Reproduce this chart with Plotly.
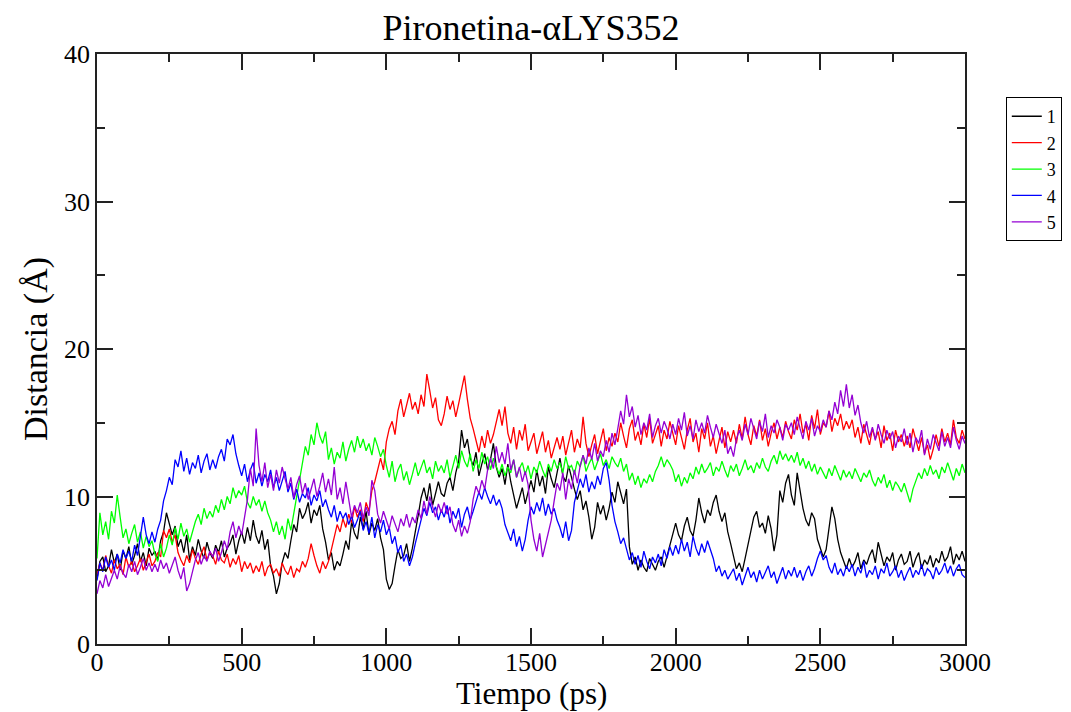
import plotly.graph_objects as go

# Time axis (ps), one sample every 10 ps
tiempo = list(range(0, 3001, 10))

dist_1 = [
    4.4, 5.6, 5.9, 4.9, 5.3, 6.4, 5.5, 6.1, 5.0, 6.3, 5.8, 6.6, 5.4, 6.0, 6.8, 5.6, 6.2, 5.3, 6.5, 6.0,
    6.3, 5.7, 7.0, 7.6, 8.9, 8.2, 7.4, 8.0, 6.6, 7.1, 6.2, 7.4, 5.7, 6.6, 6.0, 7.1, 6.3, 5.8, 6.9, 6.2,
    5.8, 6.7, 6.2, 7.0, 5.9, 6.5, 6.8, 7.4, 6.1, 7.0, 7.6, 6.8, 7.9, 7.0, 8.4, 7.3, 6.8, 7.7, 6.4, 7.1,
    5.3, 4.6, 3.4, 4.1, 5.5, 6.2, 5.8, 7.0, 8.1, 7.6, 9.2, 8.5, 8.9, 9.6, 8.2, 9.1, 8.7, 9.4, 7.8, 6.9,
    5.7, 6.2, 5.0, 5.6, 5.3, 6.1, 7.0, 6.4, 8.3, 7.5, 7.1, 8.6, 7.8, 9.0, 7.4, 8.2, 7.7, 8.5, 7.2, 6.4,
    4.4, 3.7, 4.1, 5.3, 6.4, 5.8, 6.0, 6.8, 5.6, 6.5, 7.5, 8.7, 9.9, 10.6, 9.7, 10.9, 9.4, 10.3, 11.0, 10.2,
    10.0, 10.9, 11.3, 10.4, 11.6, 12.4, 14.5, 13.3, 13.9, 12.6, 12.1, 13.0, 11.4, 12.2, 12.9, 11.8, 12.5, 13.6, 12.0, 11.3,
    11.9, 10.8, 12.2, 11.0, 10.1, 9.2, 9.9, 10.6, 9.5, 10.4, 11.1, 10.3, 11.8, 10.7, 11.4, 10.2, 12.0, 11.2, 10.6, 11.6,
    12.6, 11.4, 11.0, 12.1, 11.2, 10.5, 9.8, 10.4, 9.1, 9.7, 8.6, 7.1, 7.9, 9.6, 8.8, 9.4, 8.4, 9.2, 10.3, 9.6,
    11.0, 10.2, 9.5, 10.5, 6.6, 5.4, 5.9, 5.0, 5.7, 5.2, 4.9, 5.8, 5.4, 5.0, 5.6, 5.9, 5.2, 6.0, 6.8, 7.6,
    8.2, 7.4, 7.0, 8.0, 8.6, 7.7, 7.3, 8.4, 9.9, 8.9, 8.2, 9.1, 8.7, 9.6, 10.1, 9.0, 8.3, 8.9, 7.6, 6.8,
    5.9, 5.1, 5.5, 4.9, 5.8, 6.7, 7.8, 8.6, 9.0, 7.9, 8.2, 7.5, 8.7, 7.8, 6.3, 7.4, 10.4, 9.6, 10.9, 11.5,
    10.1, 9.4, 11.6, 10.5, 9.2, 8.4, 8.0, 8.9, 8.5, 7.1, 6.5, 5.9, 6.4, 7.7, 9.3, 8.5, 7.1, 6.2, 5.6, 5.1,
    5.8, 5.2, 5.6, 6.2, 5.1, 5.7, 5.4, 6.0, 6.4, 5.5, 6.9, 6.1, 5.3, 5.9, 5.6, 6.2, 5.0, 5.7, 6.1, 5.4,
    5.6, 6.3, 5.2, 5.8, 6.2, 5.1, 5.7, 5.4, 6.0, 5.2, 5.8, 5.5, 6.3, 5.6, 5.9, 6.6, 5.4, 6.1, 5.7, 6.3,
    5.6,
]

dist_2 = [
    4.7, 5.5, 5.0, 6.0, 5.3, 4.8, 5.7, 5.1, 5.4, 4.7, 5.9, 5.2, 5.6, 4.9, 5.3, 5.8, 5.0, 5.5, 6.1, 5.3,
    5.6, 6.2, 5.9, 7.7, 7.2, 7.8, 6.9, 7.4, 6.2, 5.7, 5.3, 6.0, 5.5, 6.4, 5.8, 5.4, 6.1, 6.6, 5.7, 6.2,
    6.0, 5.4, 6.3, 5.7, 5.5, 6.1, 5.2, 5.8, 5.4, 6.0, 4.9, 5.6, 5.1, 5.5, 4.8, 5.3, 4.9, 5.6, 4.6, 5.2,
    5.4, 4.8, 5.1, 4.6, 5.5, 5.0, 4.7, 5.3, 4.5, 5.1, 4.9, 5.6, 5.2, 5.8, 6.8, 6.0, 5.3, 4.8, 5.6, 5.1,
    5.6, 6.4, 7.2, 8.1, 7.6, 8.5, 7.9, 8.8, 8.2, 9.3, 8.6, 9.1, 8.3, 9.6, 9.0, 10.4, 11.0, 11.9, 12.6, 11.8,
    13.7, 14.6, 15.1, 14.2, 15.8, 16.6, 15.4, 16.2, 17.0, 15.9, 16.4, 15.6, 16.9, 16.1, 18.3, 17.2, 16.0, 16.7, 15.2, 14.8,
    15.6, 16.8, 15.9, 16.5, 15.4, 16.3, 17.2, 18.2, 16.6, 15.3, 14.6, 13.8, 13.0, 14.1, 13.3, 14.5, 13.6, 14.2, 15.0, 15.9,
    14.8, 16.1, 14.3, 13.6, 14.7, 13.2, 14.5, 13.8, 14.9, 13.1, 13.7, 14.3, 12.9, 13.6, 14.4, 13.0, 13.8, 12.6, 13.4, 14.0,
    13.2, 14.1, 12.8, 13.7, 14.5, 13.0, 13.9, 13.3, 15.4, 13.6, 12.7, 13.5, 14.2, 12.9, 13.8, 14.6, 13.1, 14.0, 13.4, 14.3,
    13.7, 15.0, 14.1, 13.3, 14.6, 15.2, 13.8, 14.4, 13.5, 14.9, 14.0, 15.3, 13.6, 14.2, 14.8, 13.4, 14.5, 13.9, 15.1, 14.3,
    13.5, 14.8, 14.0, 13.2, 14.5, 15.3, 13.7, 14.3, 13.0, 14.6, 13.9, 15.0, 13.4, 14.1, 12.9, 13.8, 14.7, 13.3, 14.4, 13.7,
    14.5, 13.6, 14.9, 13.9, 15.4, 14.2, 13.5, 14.8, 14.1, 15.2, 13.8, 14.6, 13.4, 14.3, 15.0, 13.9, 14.7, 14.0, 15.1, 14.4,
    13.9, 15.2, 14.5, 15.6, 14.3, 14.9, 13.8, 15.5, 14.6, 15.9, 14.2, 15.0, 14.7, 15.8, 14.4, 15.3, 14.8, 15.6, 14.5, 15.1,
    14.6, 15.2, 14.0, 14.7, 13.6, 14.9, 14.2, 13.5, 14.6, 13.9, 14.4, 13.3, 14.8, 13.8, 14.3, 13.1, 14.5, 13.7, 14.2, 13.4,
    14.1, 13.3, 14.6, 13.8, 13.1, 14.0, 12.9, 13.5, 12.5, 13.2, 14.2, 13.4, 14.6, 13.7, 14.3, 13.5, 15.2, 14.0, 13.6, 14.5,
    13.9,
]

dist_3 = [
    5.8, 8.9, 7.4, 8.3, 7.1, 9.0, 8.2, 10.1, 8.6, 7.2, 7.8, 6.8, 7.5, 8.1, 6.9, 7.6, 6.5, 7.3, 6.6, 7.0,
    6.1, 5.6, 6.8, 5.9, 6.5, 7.4, 6.7, 7.9, 7.1, 8.2, 7.3, 7.8, 6.9, 7.6, 8.3, 8.8, 8.1, 9.2, 8.5, 9.0,
    8.6, 9.4, 8.9, 9.8, 9.1, 10.0, 9.5, 10.6, 9.9, 10.4, 10.1, 10.7, 9.6, 9.2, 10.0, 9.4, 9.8, 9.0, 9.7, 8.9,
    8.4, 7.6, 8.3, 7.4, 8.0, 7.1, 8.5, 7.7, 8.9, 9.8, 11.2, 12.3, 13.4, 12.8, 14.2, 13.5, 15.0, 14.1, 13.6, 14.4,
    12.5, 13.3, 12.2, 13.0, 12.6, 13.7, 12.4, 13.2, 13.8, 13.0, 14.1, 13.3, 13.9, 13.1, 13.6, 12.8, 14.0, 13.4, 12.7, 13.2,
    12.1, 11.3, 12.4, 11.0, 11.8, 12.2, 11.1, 11.7, 10.8, 11.5, 12.3, 11.4, 11.9, 12.5, 11.6, 12.0, 11.2, 12.4, 11.7, 12.1,
    11.6, 12.5, 11.3, 12.0, 12.8, 11.9, 13.1, 12.4, 12.0, 12.9, 11.7, 12.5, 11.9, 13.0, 12.2, 12.7, 11.8, 12.6, 12.1, 11.5,
    12.2, 11.4, 12.0, 11.6, 12.5, 11.3, 11.9, 12.3, 11.5, 12.1, 11.2, 12.0, 11.6, 12.4, 11.8, 11.3, 12.2, 11.7, 12.5, 11.9,
    12.3, 11.6, 12.7, 11.9, 12.1, 11.5, 12.4, 12.0, 12.8, 11.7, 12.2, 12.6, 11.8, 12.3, 12.9, 12.1, 12.5, 11.9, 12.7, 12.3,
    12.0, 12.6, 11.7, 12.2, 11.1, 11.6, 10.8, 11.4, 10.6, 11.2, 10.9, 11.5, 11.0, 11.7, 12.1, 12.7, 12.0, 12.5, 12.2, 11.8,
    11.0, 11.5, 10.7, 11.3, 10.9, 11.6, 11.2, 12.0, 11.5, 12.2, 11.6, 11.9, 12.3, 11.4, 12.0, 11.7, 12.4, 11.8, 11.3, 12.1,
    11.7, 12.2, 11.4, 11.9, 12.5, 11.8, 12.1, 11.6, 12.3, 11.9, 12.6, 12.0, 11.7, 12.4, 12.8, 12.2, 13.1, 12.5, 12.9, 12.4,
    12.8, 12.3, 13.0, 12.1, 12.6, 11.9, 12.4, 11.7, 12.2, 11.5, 12.0, 11.6, 11.2, 11.9, 11.4, 12.1, 11.6, 11.1, 11.8, 11.3,
    11.7, 11.2, 11.9, 11.4, 11.0, 11.6, 11.3, 11.8, 11.1, 10.7, 11.3, 10.9, 11.5, 10.6, 11.1, 10.4, 11.0, 10.7, 10.3, 10.9,
    10.2, 9.6, 10.5, 11.0, 11.6, 11.2, 11.9, 11.4, 12.1, 11.5, 11.8, 11.2, 12.0, 11.6, 12.3, 11.7, 11.1, 11.9, 11.4, 12.2,
    11.6,
]

dist_4 = [
    4.3, 5.5, 4.9, 5.9, 5.2, 5.7, 5.0, 6.1, 5.5, 6.4, 5.8, 6.3, 5.6, 6.7, 6.0, 7.2, 8.6, 7.4, 6.8, 7.6,
    6.9, 7.8, 8.4, 9.7, 10.4, 11.3, 10.8, 12.5, 12.0, 13.1, 11.7, 12.6, 11.5, 12.3, 11.9, 12.8, 11.6, 12.4, 12.9, 11.8,
    12.5, 11.9, 12.7, 13.2, 12.4, 13.9, 13.5, 14.2, 12.9, 12.1, 11.4, 12.2, 11.0, 11.8, 12.3, 10.9, 11.6, 10.7, 11.5, 11.0,
    11.8, 10.6, 11.3, 10.4, 11.1, 11.7, 10.3, 10.9, 9.8, 10.5, 9.6, 10.2, 9.9, 10.6, 9.4, 10.1, 9.7, 10.4, 9.3, 9.8,
    9.1, 8.6, 9.4, 8.3, 9.0, 8.5, 8.9, 8.1, 8.7, 7.9, 8.4, 9.0, 7.7, 8.3, 7.5, 8.6, 7.2, 8.1, 7.6, 8.4,
    7.4, 7.9, 6.8, 7.3, 6.2, 6.7, 5.6, 6.1, 5.3, 5.9, 6.8, 7.6, 8.5, 9.2, 8.7, 9.6, 8.9, 9.3, 8.4, 9.1,
    8.6, 9.4, 8.2, 9.0, 8.5, 9.2, 7.9, 8.8, 9.3, 8.4, 9.0, 9.7, 10.3, 9.8, 10.6, 10.0, 9.5, 10.1, 9.4, 9.8,
    9.2, 8.1, 7.6, 7.0, 7.8, 6.6, 7.3, 6.3, 7.1, 8.4, 9.3, 8.8, 9.6, 9.0, 9.9, 8.7, 9.5, 8.8, 9.2, 8.4,
    7.9, 7.2, 8.3, 7.0, 7.7, 9.6, 10.4, 11.2, 10.6, 11.5, 10.3, 11.0, 10.5, 11.4, 10.8, 11.9, 12.3, 11.1, 9.4, 8.3,
    7.6, 6.8, 7.2, 6.4, 5.7, 6.2, 5.4, 6.0, 5.2, 6.3, 5.6, 5.1, 5.9, 5.5, 6.1, 5.3, 6.4, 5.8, 6.6, 6.0,
    6.7, 6.1, 7.1, 6.3, 6.9, 5.9, 7.3, 6.5, 6.0, 6.8, 6.2, 7.0, 6.4, 5.8, 4.9, 5.3, 4.6, 5.0, 4.4, 4.8,
    5.1, 4.3, 4.8, 4.0, 4.6, 5.2, 4.5, 4.9, 4.2, 5.0, 4.4, 4.8, 5.3, 4.5, 4.9, 4.1, 4.7, 5.2, 4.4, 5.0,
    4.6, 5.2, 4.5, 5.0, 4.3, 4.9, 5.3, 4.6, 5.1, 5.8, 6.3, 5.7, 6.0, 5.2, 4.8, 5.5, 4.7, 5.1, 4.6, 5.3,
    4.9, 5.4, 4.6, 5.2, 4.8, 5.6, 4.5, 5.0, 4.7, 5.3, 4.4, 5.1, 4.8, 5.5, 4.6, 4.9, 5.3, 4.5, 5.0, 4.3,
    4.8, 5.2, 4.5, 5.0, 4.7, 5.4, 4.6, 5.1, 4.9, 4.4, 5.2, 4.7, 5.0, 5.5, 4.8, 5.3, 4.6, 5.1, 5.4, 4.7,
    4.5,
]

dist_5 = [
    3.4, 4.3, 3.8, 4.7, 3.9, 4.5, 5.0, 4.4, 5.3, 4.8, 4.5, 5.4, 4.9, 5.6, 4.7, 5.2, 5.8, 5.0, 5.5, 4.9,
    5.4, 4.9, 5.7, 5.1, 5.5, 4.8, 5.3, 5.9, 5.0, 4.4, 5.2, 3.6, 4.1, 5.0, 5.7, 6.2, 5.4, 6.0, 5.6, 6.3,
    5.9, 6.5, 5.6, 6.2, 7.0, 6.4, 7.6, 8.3, 7.2, 8.0, 7.4, 8.6, 9.8, 11.9, 10.7, 14.6, 12.1, 11.0, 12.3, 10.6,
    11.5, 10.4, 11.8, 10.9, 12.0, 11.2, 10.5, 11.3, 9.9, 10.8, 11.4, 10.2, 10.9, 9.8, 10.6, 11.2, 10.0, 10.7, 11.6, 10.3,
    11.2, 10.1, 12.0, 9.8, 10.6, 9.5, 11.0, 9.7, 8.6, 9.4, 8.9, 9.6, 8.5, 9.3, 8.7, 11.1, 10.4, 8.8, 8.2, 9.0,
    8.4, 7.8, 8.7, 8.1, 7.6, 8.5, 8.0, 8.8, 7.9, 8.6, 8.2, 9.1, 8.5, 9.7, 8.8, 10.0, 9.2, 8.6, 9.5, 8.9,
    9.6, 8.8, 9.3, 8.1, 7.6, 8.4, 7.3, 8.0, 7.5, 8.3, 9.8, 10.7, 10.2, 11.1, 10.5, 11.8, 12.6, 11.9, 13.4, 12.3,
    13.0, 12.2, 13.6, 11.8, 12.5, 11.3, 12.0, 11.0, 11.7, 10.8, 8.4, 7.1, 6.3, 7.5, 5.9, 6.8, 7.6, 8.4, 9.7, 10.9,
    10.4, 11.6, 9.8, 11.2, 10.5, 11.8, 10.9, 12.1, 12.8, 12.2, 13.3, 12.5, 13.6, 12.4, 13.1, 12.7, 13.8, 13.0, 14.3, 13.5,
    14.6, 15.8, 14.9, 16.9, 15.4, 16.1, 14.7, 15.5, 14.2, 15.0, 14.5, 15.6, 14.0, 14.8, 15.3, 14.3, 15.1, 14.6, 13.9, 14.9,
    14.2, 15.3, 14.5, 15.7, 14.1, 14.8, 13.9, 15.2, 14.4, 15.0, 14.3, 15.5, 14.7, 14.0, 14.9, 14.2, 13.6, 14.5, 12.9, 13.4,
    12.7, 13.9, 14.5, 13.8, 14.9, 14.2, 15.3, 14.6, 13.9, 15.1, 14.4, 15.6, 14.0, 14.8, 14.3, 15.2, 14.7, 13.8, 14.9, 14.5,
    15.0, 14.2, 15.4, 14.6, 13.9, 15.1, 14.5, 15.3, 14.1, 14.8, 14.4, 15.2, 14.7, 15.8, 15.2, 16.4, 15.6, 17.2, 16.1, 17.6,
    16.0, 16.9, 15.5, 16.2, 15.0, 14.3, 15.1, 14.0, 14.7, 13.8, 14.9, 14.2, 13.6, 14.5, 13.9, 14.4, 13.3, 14.1, 13.7, 14.6,
    13.5, 14.3, 13.0, 14.0, 13.6, 14.5, 12.8, 13.9, 13.2, 14.2, 13.7, 13.1, 14.4, 13.4, 14.0, 13.3, 14.7, 13.8, 13.2, 14.1,
    13.6,
]

series_names = ["1", "2", "3", "4", "5"]
series_colors = ["#000000", "#ff0000", "#00ff00", "#0000ff", "#9400d3"]
series_data = [dist_1, dist_2, dist_3, dist_4, dist_5]

SERIF = "Liberation Serif, Times New Roman, serif"

fig = go.Figure()
for name, color, ys in zip(series_names, series_colors, series_data):
    fig.add_trace(go.Scatter(
        x=tiempo[:len(ys)], y=ys, mode="lines", name=name,
        line=dict(color=color, width=1.3),
    ))

axis_common = dict(
    showline=True, linecolor="#222222", linewidth=1.8, mirror="allticks",
    ticks="inside", ticklen=16, tickwidth=1.5, tickcolor="#222222",
    showgrid=False, zeroline=False, automargin=False,
    tickfont=dict(family=SERIF, size=26, color="black"),
)

fig.update_layout(
    width=1071, height=712,
    paper_bgcolor="white", plot_bgcolor="white",
    margin=dict(l=97, r=106, t=54, b=68, autoexpand=False),
    title=dict(
        text="Pironetina-αLYS352",
        x=(97 + 965) / 2 / 1071, xanchor="center",
        y=1 - 27 / 712, yanchor="middle",
        font=dict(family=SERIF, size=36, color="black"),
    ),
    xaxis=dict(
        range=[0, 3000], tickvals=[0, 500, 1000, 1500, 2000, 2500, 3000],
        minor=dict(dtick=250, ticks="inside", ticklen=8, tickwidth=1.5, tickcolor="#222222"),
        ticklabelstandoff=-6,
        **axis_common,
    ),
    yaxis=dict(
        range=[0, 40], tickvals=[0, 10, 20, 30, 40],
        minor=dict(dtick=5, ticks="inside", ticklen=8, tickwidth=1.5, tickcolor="#222222"),
        title=dict(text="Distancia (Å)", font=dict(family=SERIF, size=34, color="black"), standoff=6),
        **axis_common,
    ),
    legend=dict(
        x=1.047, y=0.927, xanchor="left", yanchor="top",
        bordercolor="black", borderwidth=1, bgcolor="white",
        font=dict(family=SERIF, size=18, color="black"),
        itemwidth=30, tracegroupgap=0,
    ),
    showlegend=True,
)

# x-axis title, anchored to the bottom edge of the page
fig.add_annotation(
    text="Tiempo (ps)", showarrow=False,
    xref="paper", yref="paper", x=0.5, xanchor="center",
    y=-68 / 590, yanchor="bottom", yshift=0, borderpad=0,
    font=dict(family=SERIF, size=31, color="black"),
)

fig.write_html("out.html")
